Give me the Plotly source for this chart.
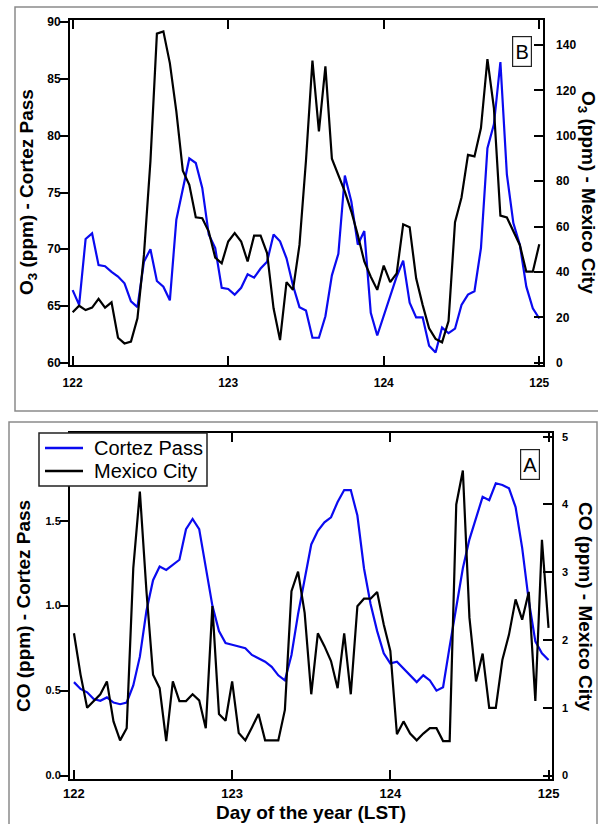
import plotly.graph_objects as go

W, H = 598, 824

hours = list(range(73))
days = [122 + h / 24 for h in hours]

o3_cortez = [66.4, 65.1, 70.9, 71.4, 68.6, 68.5, 68.0, 67.6, 67.0, 65.4, 64.9, 68.9, 70.0, 67.2, 66.7, 65.5,
             72.6, 75.4, 78.0, 77.6, 75.4, 71.3, 70.1, 66.6, 66.5, 66.0, 66.6, 67.8, 67.5, 68.3, 68.9, 71.3,
             70.7, 69.2, 66.8, 64.9, 64.6, 62.2, 62.2, 64.1, 67.7, 69.6, 76.5, 74.2, 70.4, 71.6, 64.4, 62.4,
             64.2, 66.0, 67.6, 69.0, 65.3, 64.0, 64.0, 61.5, 60.9, 63.1, 62.6, 63.0, 65.1, 66.0, 66.3, 70.1,
             78.9, 81.0, 86.5, 76.6, 72.3, 70.4, 66.7, 64.8, 63.9]
o3_mexico = [22.2, 25.1, 23.2, 24.3, 28.1, 24.3, 26.6, 11.0, 8.5, 9.3, 19.6, 47.5, 88.7, 145.0, 146.0, 132.0,
             110.7, 84.6, 78.4, 64.1, 63.7, 57.8, 46.3, 43.8, 53.4, 57.1, 53.4, 44.6, 56.0, 56.0, 48.3, 24.0,
             10.0, 35.5, 32.1, 51.9, 89.0, 133.1, 101.9, 130.6, 89.9, 82.8, 75.4, 66.6, 56.3, 44.6, 37.9, 32.1,
             42.8, 35.5, 39.4, 61.0, 59.7, 37.2, 25.5, 15.2, 10.5, 9.0, 18.4, 61.9, 72.8, 91.6, 90.9, 103.4,
             133.8, 112.2, 64.8, 64.0, 58.1, 51.9, 40.1, 40.1, 52.2]
co_cortez = [0.55, 0.51, 0.49, 0.45, 0.44, 0.46, 0.43, 0.42, 0.43, 0.53, 0.70, 0.97, 1.15, 1.23, 1.21, 1.24,
             1.27, 1.45, 1.51, 1.45, 1.22, 1.00, 0.85, 0.78, 0.77, 0.76, 0.75, 0.71, 0.69, 0.67, 0.64, 0.59,
             0.56, 0.71, 0.95, 1.16, 1.36, 1.44, 1.49, 1.52, 1.61, 1.68, 1.68, 1.53, 1.22, 1.01, 0.85, 0.72,
             0.66, 0.67, 0.63, 0.59, 0.55, 0.59, 0.56, 0.50, 0.52, 0.76, 1.00, 1.22, 1.39, 1.52, 1.64, 1.62,
             1.72, 1.71, 1.69, 1.58, 1.34, 1.03, 0.79, 0.72, 0.68]
co_mexico = [2.10, 1.49, 1.00, 1.10, 1.20, 1.39, 0.80, 0.52, 0.70, 3.06, 4.19, 2.72, 1.49, 1.29, 0.51, 1.39,
             1.10, 1.10, 1.20, 1.11, 0.70, 2.50, 0.91, 0.81, 1.39, 0.63, 0.52, 0.71, 0.91, 0.52, 0.52, 0.52,
             0.97, 2.72, 3.01, 2.40, 1.20, 2.10, 1.91, 1.69, 1.29, 2.10, 1.20, 2.50, 2.61, 2.61, 2.71, 2.23,
             1.84, 0.61, 0.80, 0.62, 0.52, 0.62, 0.70, 0.70, 0.51, 0.51, 4.00, 4.50, 2.33, 1.39, 1.80, 1.00,
             1.00, 1.71, 2.08, 2.60, 2.30, 2.71, 1.10, 3.48, 2.18]

day_ticks = [122, 123, 124, 125]
o3_left_ticks = [60, 65, 70, 75, 80, 85, 90]
o3_right_ticks = [0, 20, 40, 60, 80, 100, 120, 140]
co_left_ticks = [0.0, 0.5, 1.0, 1.5]
co_right_ticks = [0, 1, 2, 3, 4, 5]
series_names = ["Cortez Pass", "Mexico City"]

BLUE = "#0a0af0"
BLACK = "#000000"
FONT = "Liberation Sans, Arial, sans-serif"


def px(x):
    return x / W


def py(y):
    return 1 - y / H


fig = go.Figure()

fig.add_trace(go.Scatter(x=days, y=o3_cortez, mode="lines", line=dict(color=BLUE, width=2.2),
                         xaxis="x", yaxis="y", name=series_names[0]))
fig.add_trace(go.Scatter(x=days, y=o3_mexico, mode="lines", line=dict(color=BLACK, width=2.2),
                         xaxis="x", yaxis="y2", name=series_names[1]))
fig.add_trace(go.Scatter(x=days, y=co_cortez, mode="lines", line=dict(color=BLUE, width=2.2),
                         xaxis="x2", yaxis="y3", name=series_names[0]))
fig.add_trace(go.Scatter(x=days, y=co_mexico, mode="lines", line=dict(color=BLACK, width=2.2),
                         xaxis="x2", yaxis="y4", name=series_names[1]))

tickfont12 = dict(family=FONT, size=12, color="black", weight="bold")
tickfont11 = dict(family=FONT, size=11, color="black", weight="bold")
tickfont13 = dict(family=FONT, size=13, color="black", weight="bold")

common_x = dict(showline=True, linecolor="black", linewidth=2, ticks="inside", ticklen=9,
                tickwidth=2, tickcolor="black", mirror="ticks", showgrid=False, zeroline=False,
                tickvals=day_ticks, automargin=False)
common_y = dict(showline=True, linecolor="black", linewidth=2, tickwidth=2, tickcolor="black",
                showgrid=False, zeroline=False, automargin=False)

fig.update_layout(
    width=W, height=H,
    margin=dict(l=0, r=0, t=0, b=0, autoexpand=False),
    paper_bgcolor="white", plot_bgcolor="white",
    font=dict(family=FONT, color="black"),
    showlegend=False,
    xaxis=dict(domain=[px(70), px(542.7)], anchor="y", range=[121.983, 125.022],
               tickfont=tickfont12, ticklabelstandoff=6, **common_x),
    yaxis=dict(domain=[py(365), py(20)], anchor="x", range=[59.8, 90.2], tickvals=o3_left_ticks,
               ticks="outside", ticklen=8, tickfont=tickfont12, ticklabelstandoff=-3, **common_y),
    yaxis2=dict(overlaying="y", side="right", anchor="x", range=[-1, 151], tickvals=o3_right_ticks,
                ticks="inside", ticklen=9, tickfont=tickfont12, ticklabelstandoff=9, **common_y),
    xaxis2=dict(domain=[px(70), px(551.7)], anchor="y3", range=[121.975, 125.02],
                tickfont=tickfont13, ticklabelstandoff=1, **common_x),
    yaxis3=dict(domain=[py(779), py(433.3)], anchor="x2", range=[-0.02, 2.014], tickvals=co_left_ticks,
                ticktext=["0.0", "0.5", "1.0", "1.5"], ticks="outside", ticklen=8, tickfont=tickfont11,
                ticklabelstandoff=-3, **common_y),
    yaxis4=dict(overlaying="y3", side="right", anchor="x2", range=[-0.05, 5.05], tickvals=co_right_ticks,
                ticks="inside", ticklen=9, tickfont=tickfont11, ticklabelstandoff=6, **common_y),
)

# panel frames
fig.add_shape(type="rect", xref="paper", yref="paper", x0=px(15), x1=px(606), y0=py(411), y1=py(7),
              line=dict(color="#8a8a8a", width=1.5), fillcolor="rgba(0,0,0,0)", layer="below")
fig.add_shape(type="rect", xref="paper", yref="paper", x0=px(9), x1=px(597), y0=py(830), y1=py(422),
              line=dict(color="#8a8a8a", width=1.5), fillcolor="rgba(0,0,0,0)", layer="below")

# legend box (drawn above the data, like the original)
fig.add_shape(type="rect", xref="paper", yref="paper", x0=px(39), x1=px(207), y0=py(486), y1=py(433),
              line=dict(color="#222", width=1.5), fillcolor="white", layer="above")
for name, color, yy in [(series_names[0], BLUE, 448), (series_names[1], BLACK, 471)]:
    fig.add_shape(type="line", xref="paper", yref="paper", x0=px(45), x1=px(83), y0=py(yy), y1=py(yy),
                  line=dict(color=color, width=2.5), layer="above")
    fig.add_annotation(text=name, xref="paper", yref="paper", x=px(92), y=py(yy), xanchor="left",
                       yanchor="middle", showarrow=False,
                       font=dict(family=FONT, size=20, color="black"))

title_font = dict(family=FONT, size=19, color="black", weight="bold")
annos = [
    dict(text="O<sub>3</sub> (ppm) - Cortez Pass", x=px(28), y=py(192), textangle=-90),
    dict(text="O<sub>3</sub> (ppm) - Mexico City", x=px(587), y=py(192), textangle=90),
    dict(text="CO (ppm) - Cortez Pass", x=px(23), y=py(606), textangle=-90),
    dict(text="CO (ppm) - Mexico City", x=px(586), y=py(606), textangle=90),
    dict(text="Day of the year (LST)", x=px(311), y=py(812), textangle=0),
]
for a in annos:
    fig.add_annotation(xref="paper", yref="paper", xanchor="center", yanchor="middle",
                       showarrow=False, font=title_font, **a)

for lbl, cx, cy in [("B", 521.5, 51.3), ("A", 530, 464.7)]:
    fig.add_annotation(text=lbl, xref="paper", yref="paper", x=px(cx), y=py(cy), xanchor="center",
                       yanchor="middle", showarrow=False, bordercolor="#222", borderwidth=1.2,
                       borderpad=1, width=16, height=27, bgcolor="white",
                       font=dict(family=FONT, size=20, color="black"))

fig.write_html("out.html", config={"displayModeBar": False},
               post_script="document.body.style.margin='0px';")
